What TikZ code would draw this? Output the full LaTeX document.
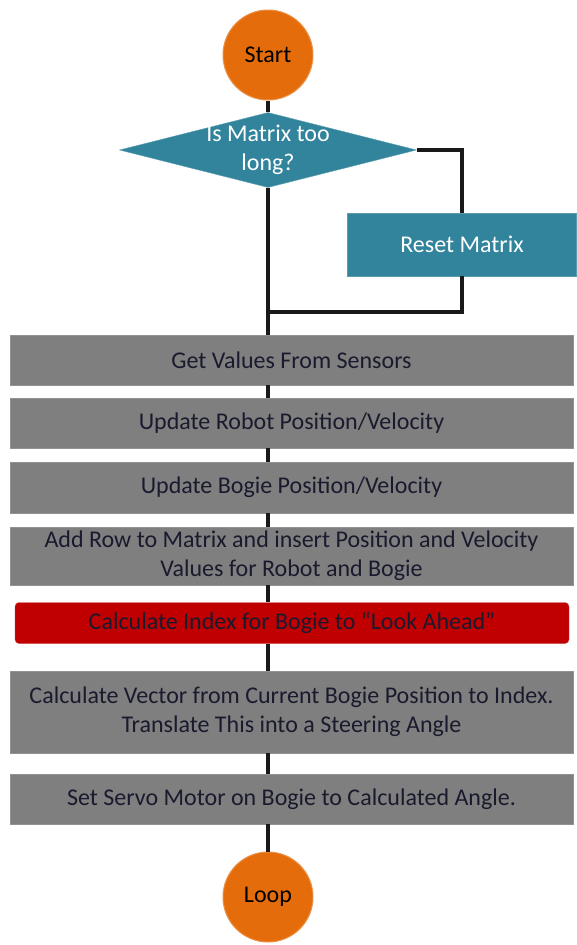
\documentclass[tikz,border=0pt]{standalone}
\usepackage{fontspec}
\setmainfont{Carlito}
\usetikzlibrary{shapes.geometric}
\definecolor{termorange}{HTML}{E46C0A}
\definecolor{tealblue}{HTML}{31849B}
\definecolor{boxgrey}{HTML}{7F7F7F}
\definecolor{lookred}{HTML}{C00000}
\definecolor{boxtext}{HTML}{1A1A2E}

\begin{document}
\begin{tikzpicture}[x=1pt, y=-1pt, font=\fontsize{24}{29}\selectfont,
  term/.style={shape=circle, fill=termorange, draw=termorange!75!white, line width=1pt, minimum size=90pt, inner sep=0pt},
  decision/.style={shape=diamond, fill=tealblue, draw=tealblue!80!white, minimum width=297pt, minimum height=75pt, inner sep=0pt},
  stepbox/.style={shape=rectangle, fill=boxgrey, draw=boxgrey!85!white, minimum width=563pt, inner sep=0pt, align=center, text=boxtext},
  flow/.style={line width=3.5pt, draw=black!90}]
\useasboundingbox (0,0) rectangle (577,945);

% start and the matrix check
\node[term] (start) at (268,55) {Start};
\node[decision, label={[text=white, align=center]center:Is Matrix too\\long?}] (decide) at (268,150) {};
\node[shape=rectangle, fill=tealblue, draw=tealblue!80!white, minimum width=229pt, minimum height=63pt, text=white] (reset) at (462,244.5) {Reset Matrix};
\coordinate (join) at (268,312);

% main steps
\node[stepbox, minimum height=50pt] (sensors) at (291.5,360) {Get Values From Sensors};
\node[stepbox, minimum height=50pt] (robot) at (291.5,423) {Update Robot Position/Velocity};
\node[stepbox, minimum height=51pt] (bogie) at (291.5,487.5) {Update Bogie Position/Velocity};
\node[stepbox, minimum height=58pt] (addrow) at (291.5,556) {Add Row to Matrix and insert Position and Velocity\\Values for Robot and Bogie};
\node[stepbox, fill=lookred, draw=lookred!70!white, rounded corners=4pt, minimum width=554pt, minimum height=41pt] (lookahead) at (292,623) {Calculate Index for Bogie to “Look Ahead”};
\node[stepbox, minimum height=82pt] (vector) at (291.5,712) {Calculate Vector from Current Bogie Position to Index.\\Translate This into a Steering Angle};
\node[stepbox, minimum height=50pt] (servo) at (291.5,799) {Set Servo Motor on Bogie to Calculated Angle.};
\node[term] (loop) at (268,897) {Loop};

% connectors
\draw[flow] (start) -- (decide);
\draw[flow] (decide.south) -- (sensors.north -| decide.south);
\draw[flow] (decide.east) -| (reset.north);
\draw[flow] (reset.south) |- (join);
\draw[flow] (sensors.south -| start) -- (robot.north -| start);
\draw[flow] (robot.south -| start) -- (bogie.north -| start);
\draw[flow] (bogie.south -| start) -- (addrow.north -| start);
\draw[flow] (addrow.south -| start) -- (lookahead.north -| start);
\draw[flow] (lookahead.south -| start) -- (vector.north -| start);
\draw[flow] (vector.south -| start) -- (servo.north -| start);
\draw[flow] (servo.south -| start) -- (loop);
\end{tikzpicture}
\end{document}
